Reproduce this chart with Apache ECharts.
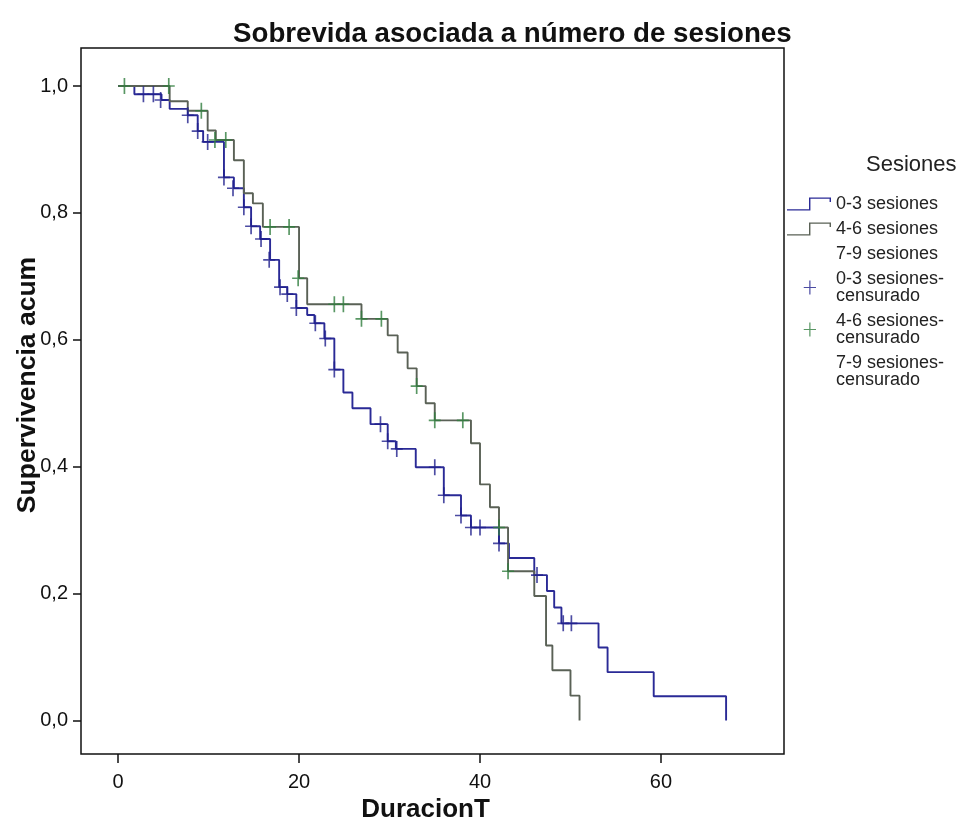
<!DOCTYPE html>
<html>
<head>
<meta charset="utf-8">
<script src="https://cdn.jsdelivr.net/npm/echarts@6/dist/echarts.min.js"></script>
<style>
  html, body { margin: 0; padding: 0; background: #fff; }
  #main { width: 961px; height: 823px; }
</style>
</head>
<body>
<div id="main"></div>
<script>
// Kaplan-Meier steps: [tiempo, supervivencia acumulada]
const steps03 = [
  [0, 1.0], [1.8, 0.987], [4.8, 0.978], [5.7, 0.964], [7.7, 0.954], [8.8, 0.929],
  [9.4, 0.912], [11.7, 0.856], [12.8, 0.839], [13.9, 0.809], [14.7, 0.779],
  [15.7, 0.759], [16.8, 0.726], [17.8, 0.683], [18.7, 0.672], [19.7, 0.650],
  [20.9, 0.639], [21.7, 0.626], [22.8, 0.602], [23.9, 0.553], [24.9, 0.517],
  [25.9, 0.492], [27.9, 0.467], [29.8, 0.440], [30.7, 0.428], [32.9, 0.399],
  [36.0, 0.355], [37.9, 0.323], [39.0, 0.304], [42.1, 0.279], [43.2, 0.256],
  [46.0, 0.229], [47.4, 0.204], [48.2, 0.178], [49.0, 0.153], [53.1, 0.115],
  [54.1, 0.076], [59.2, 0.038], [67.2, 0.0]
];
const steps46 = [
  [0, 1.0], [5.7, 0.976], [7.7, 0.961], [9.9, 0.930], [10.8, 0.915], [12.8, 0.883],
  [13.9, 0.831], [14.9, 0.815], [16.0, 0.778], [20.0, 0.697], [20.9, 0.656],
  [26.9, 0.633], [29.8, 0.607], [30.9, 0.580], [32.0, 0.555], [33.0, 0.527],
  [34.0, 0.500], [35.0, 0.473], [39.0, 0.437], [40.0, 0.372], [41.1, 0.336],
  [42.1, 0.304], [43.1, 0.235], [46.0, 0.196], [47.3, 0.118], [48.0, 0.079],
  [50.0, 0.039], [51.0, 0.0]
];
const steps79 = [];

// censored cases
const cens03 = [
  [2.8, 0.987], [3.9, 0.987], [4.7, 0.978], [7.7, 0.954], [8.8, 0.929], [9.9, 0.912],
  [11.7, 0.856], [12.7, 0.839], [13.9, 0.809], [14.7, 0.779], [15.8, 0.759],
  [16.7, 0.726], [17.9, 0.683], [18.7, 0.672], [19.7, 0.650], [21.8, 0.626],
  [22.9, 0.602], [23.9, 0.553], [29.0, 0.467], [29.8, 0.440], [30.8, 0.428],
  [35.0, 0.399], [36.0, 0.355], [37.9, 0.323], [39.0, 0.304], [40.0, 0.304],
  [42.1, 0.279], [46.3, 0.229], [49.2, 0.153], [50.1, 0.153]
];
const cens46 = [
  [0.7, 1.0], [5.6, 1.0], [9.2, 0.961], [10.7, 0.915], [11.9, 0.915], [16.8, 0.778],
  [18.9, 0.778], [19.9, 0.697], [23.9, 0.656], [24.9, 0.656], [26.9, 0.633],
  [29.1, 0.633], [33.0, 0.527], [35.0, 0.473], [38.1, 0.473], [42.1, 0.304],
  [43.1, 0.235]
];
const cens79 = [];

const xTicks = [0, 20, 40, 60];
const yTicks = [0, 0.2, 0.4, 0.6, 0.8, 1.0];

const FONT = '"Liberation Sans", Arial, sans-serif';
const PLUS = 'path://M4.3,0 L5.7,0 L5.7,6.3 L10,6.3 L10,7.7 L5.7,7.7 L5.7,14 L4.3,14 L4.3,7.7 L0,7.7 L0,6.3 L4.3,6.3 Z';
const PLUS_LEG = 'path://M0,7 L0.01,7 L0,7.01 Z M44,7 L43.99,7 L44,7.01 Z ' +
  'M22.3,-1 L23.7,-1 L23.7,6.3 L30,6.3 L30,7.7 L23.7,7.7 L23.7,15 L22.3,15 L22.3,7.7 L16,7.7 L16,6.3 L22.3,6.3 Z';
const STEP_LEG = 'path://M0,12 L21.5,12 L21.5,0.5 L43,0.5 L43,5 L41.6,5 L41.6,1.9 L22.9,1.9 L22.9,13.4 L0,13.4 Z';
const NONE_LEG = 'path://M0,7 L0.01,7 L0,7.01 Z M44,7 L43.99,7 L44,7.01 Z';

const chart = echarts.init(document.getElementById('main'), null, { renderer: 'canvas' });

chart.setOption({
  animation: false,
  backgroundColor: '#fff',
  title: {
    text: 'Sobrevida asociada a número de sesiones',
    left: 228,
    top: 15,
    textStyle: { fontFamily: FONT, fontSize: 27.7, fontWeight: 'bold', color: '#111' }
  },
  graphic: [{
    type: 'text',
    left: 866,
    top: 154,
    style: { text: 'Sesiones', font: '22px ' + FONT, fill: '#222' }
  }],
  legend: {
    orient: 'vertical',
    left: 787,
    top: 195,
    padding: 0,
    itemWidth: 44,
    itemHeight: 14,
    itemGap: 7,
    textStyle: { fontFamily: FONT, fontSize: 18, color: '#222', lineHeight: 17 },
    data: [
      { name: '0-3 sesiones', icon: STEP_LEG },
      { name: '4-6 sesiones', icon: STEP_LEG },
      { name: '7-9 sesiones', icon: NONE_LEG },
      { name: '0-3 sesiones-\ncensurado', icon: PLUS_LEG },
      { name: '4-6 sesiones-\ncensurado', icon: PLUS_LEG },
      { name: '7-9 sesiones-\ncensurado', icon: NONE_LEG }
    ]
  },
  grid: {
    left: 81, right: 177, top: 48, bottom: 69,
    outerBoundsMode: 'none',
    show: true, borderColor: '#111', borderWidth: 1.5, backgroundColor: '#fff'
  },
  xAxis: {
    type: 'value',
    min: -4.1, max: 73.6,
    name: 'DuracionT',
    nameLocation: 'middle',
    nameGap: 43,
    nameMoveOverlap: false,
    nameTextStyle: { fontFamily: FONT, fontSize: 26, fontWeight: 'bold', color: '#111', padding: [0, 14, 0, 0] },
    axisLine: { show: false, onZero: false },
    axisTick: { show: true, customValues: xTicks, length: 9, lineStyle: { color: '#111', width: 1.5 } },
    axisLabel: { customValues: xTicks, margin: 18, fontFamily: FONT, fontSize: 20, color: '#111' },
    splitLine: { show: false }
  },
  yAxis: {
    type: 'value',
    min: -0.053, max: 1.06,
    name: 'Supervivencia acum',
    nameLocation: 'middle',
    nameGap: 40,
    nameMoveOverlap: false,
    nameTextStyle: { fontFamily: FONT, fontSize: 26.5, fontWeight: 'bold', color: '#111', padding: [0, 0, 0, 32] },
    axisLine: { show: false, onZero: false },
    axisTick: { show: true, customValues: yTicks, length: 8, lineStyle: { color: '#111', width: 1.5 } },
    axisLabel: {
      customValues: yTicks, margin: 13, fontFamily: FONT, fontSize: 20, color: '#111',
      formatter: v => v.toFixed(1).replace('.', ',')
    },
    splitLine: { show: false }
  },
  series: [
    {
      name: '0-3 sesiones', type: 'line', step: 'end', data: steps03,
      showSymbol: false, color: '#2a2a96',
      lineStyle: { width: 1.9, color: '#2a2a96' }
    },
    {
      name: '4-6 sesiones', type: 'line', step: 'end', data: steps46,
      showSymbol: false, color: '#5a6156',
      lineStyle: { width: 1.9, color: '#5a6156' }
    },
    {
      name: '7-9 sesiones', type: 'line', step: 'end', data: steps79,
      showSymbol: false, color: 'rgba(0,0,0,0)'
    },
    {
      name: '0-3 sesiones-\ncensurado', type: 'scatter', data: cens03,
      symbol: PLUS, symbolSize: [12, 16], color: '#1f1f8c', z: 3
    },
    {
      name: '4-6 sesiones-\ncensurado', type: 'scatter', data: cens46,
      symbol: PLUS, symbolSize: [12, 16], color: '#2f7d3d', z: 3
    },
    {
      name: '7-9 sesiones-\ncensurado', type: 'scatter', data: cens79,
      symbol: PLUS, symbolSize: [12, 16], color: 'rgba(0,0,0,0)'
    }
  ]
});
</script>
</body>
</html>
